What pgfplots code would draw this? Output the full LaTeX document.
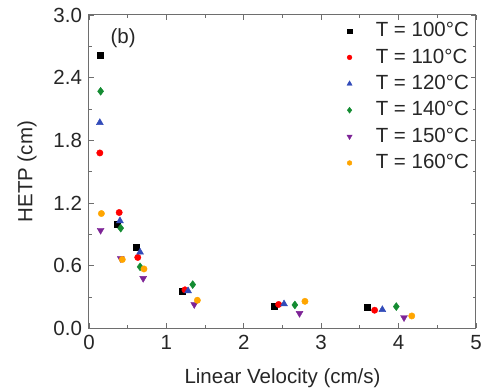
\documentclass[border=0pt]{standalone}
\usepackage{fontspec}
\setmainfont{Liberation Sans}
\usepackage{pgfplots}
\pgfplotsset{compat=1.18}
\definecolor{cblue}{RGB}{50,75,185}
\definecolor{cgreen}{RGB}{20,140,50}
\definecolor{cpurple}{RGB}{125,35,150}
\definecolor{corange}{RGB}{255,165,0}
\definecolor{axgray}{RGB}{110,110,110}
\begin{document}
\begin{tikzpicture}
\fontsize{20.5}{24}\selectfont
\begin{axis}[
  name=ax,
  scale only axis,
  width=387pt, height=313.5pt,
  xmin=0, xmax=5, ymin=0, ymax=3.0,
  xtick={0,1,2,3,4,5},
  ytick={0,0.6,1.2,1.8,2.4,3.0},
  minor x tick num=1, minor y tick num=1,
  tick align=inside,
  major tick length=5pt, minor tick length=3pt,
  axis line style={axgray, line width=1pt},
  every tick/.style={axgray, line width=0.8pt},
  yticklabel style={/pgf/number format/.cd, fixed, fixed zerofill, precision=1},
  /pgf/number format/assume math mode=true,
  ticklabel style={font=\fontsize{20.5}{24}\selectfont, text=black!85},
  label style={font=\fontsize{20.5}{24}\selectfont, text=black!85},
  xlabel={Linear Velocity (cm/s)},
  ylabel={HETP (cm)},
  xlabel style={yshift=-5pt},
  ylabel style={yshift=3pt},
  legend style={draw=none, fill=none, at={(0.995,0.99)}, anchor=north east,
    font=\fontsize{20.5}{24}\selectfont, row sep=5pt, text=black!85},
  legend image code/.code={%
    \draw[#1, /tikz/every mark/.append style={scale=0.75}] plot coordinates {(0pt,0pt)};
    \path (-4pt,0pt) (24pt,0pt);},
  legend cell align=left,
  only marks,
]
\addplot[mark=square*, mark size=3pt, color=black] coordinates {
 (0.14,2.62) (0.37,1.00) (0.61,0.78) (1.21,0.36) (2.39,0.215) (3.59,0.205)};
\addlegendentry{T = 100°C}
\addplot[mark=*, mark size=3.2pt, color=red] coordinates {
 (0.14,1.68) (0.39,1.11) (0.63,0.68) (1.24,0.37) (2.45,0.23) (3.69,0.175)};
\addlegendentry{T = 110°C}
\addplot[mark=triangle*, mark size=4pt, color=cblue] coordinates {
 (0.14,1.97) (0.40,1.03) (0.66,0.73) (1.28,0.36) (2.52,0.235) (3.79,0.18)};
\addlegendentry{T = 120°C}
\addplot[mark=diamond*, mark size=4pt, color=cgreen] coordinates {
 (0.15,2.27) (0.41,0.96) (0.66,0.59) (1.34,0.42) (2.66,0.225) (3.97,0.21)};
\addlegendentry{T = 140°C}
\addplot[mark=triangle*, mark options={rotate=180}, mark size=4pt, color=cpurple] coordinates {
 (0.15,0.94) (0.41,0.67) (0.70,0.48) (1.36,0.23) (2.72,0.145) (4.07,0.105)};
\addlegendentry{T = 150°C}
\addplot[mark=*, mark size=3.2pt, color=corange] coordinates {
 (0.16,1.10) (0.43,0.66) (0.71,0.57) (1.40,0.27) (2.79,0.26) (4.17,0.12)};
\addlegendentry{T = 160°C}
\node[anchor=center, font=\fontsize{20.5}{24}\selectfont, text=black!85] at (axis cs:0.44,2.78) {(b)};
\end{axis}
\pgfresetboundingbox
\path ([shift={(-89pt,-63.5pt)}]ax.south west) rectangle ([shift={(24pt,15pt)}]ax.north east);
\end{tikzpicture}
\end{document}
